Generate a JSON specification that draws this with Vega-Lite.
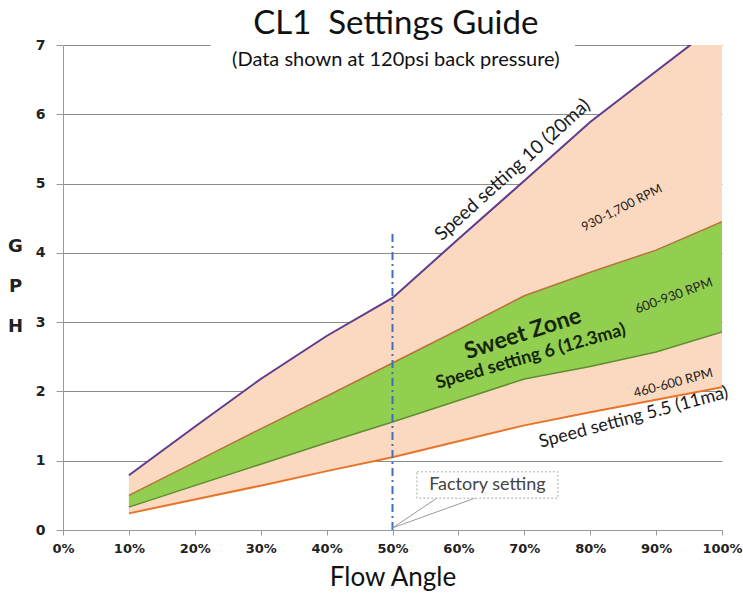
{
  "$schema": "https://vega.github.io/schema/vega-lite/v6.json",
  "width": 659,
  "height": 485,
  "autosize": {"type": "none"},
  "padding": {"left": 63, "top": 45, "right": 21, "bottom": 65},
  "background": "white",
  "config": {"view": {"stroke": null}},
  "datasets": {
    "curves": [
      {"x": 10, "purple": 0.79, "top": 0.5, "gl": 0.33, "ol": 0.24},
      {"x": 20, "purple": 1.49, "top": 0.98, "gl": 0.64, "ol": 0.44},
      {"x": 30, "purple": 2.18, "top": 1.46, "gl": 0.95, "ol": 0.64},
      {"x": 40, "purple": 2.8, "top": 1.93, "gl": 1.26, "ol": 0.85},
      {"x": 50, "purple": 3.35, "top": 2.41, "gl": 1.56, "ol": 1.05},
      {"x": 60, "purple": 4.2, "top": 2.89, "gl": 1.87, "ol": 1.28},
      {"x": 70, "purple": 5.04, "top": 3.38, "gl": 2.18, "ol": 1.51},
      {"x": 80, "purple": 5.89, "top": 3.72, "gl": 2.36, "ol": 1.7},
      {"x": 90, "purple": 6.62, "top": 4.04, "gl": 2.57, "ol": 1.88},
      {"x": 100, "purple": 7.35, "top": 4.45, "gl": 2.86, "ol": 2.06}
    ]
  },
  "layer": [
    {
      "data": {"name": "curves"},
      "mark": {"type": "area", "color": "#FBD9C0", "clip": true},
      "encoding": {
        "x": {"field": "x", "type": "quantitative", "scale": {"domain": [0, 100]},
          "axis": {"values": [0,10,20,30,40,50,60,70,80,90,100], "labelExpr": "datum.value + '%'", "grid": false,
            "labelFlush": false, "labelOverlap": false,
            "domainColor": "#999", "tickColor": "#999", "tickSize": 5, "labelPadding": 7,
            "labelFont": "DejaVu Sans", "labelFontWeight": "bold", "labelFontSize": 13, "labelColor": "#222",
            "title": "Flow Angle", "titleFont": "Lato", "titleFontSize": 26, "titleFontWeight": "normal", "titleColor": "#111", "titlePadding": 9}},
        "y": {"field": "ol", "type": "quantitative", "scale": {"domain": [0, 7]},
          "axis": {"values": [0,1,2,3,4,5,6,7], "format": "d", "grid": true, "gridColor": "#8c8c8c", "gridWidth": 1,
            "labelFlush": false, "labelOverlap": false,
            "domainColor": "#999", "tickColor": "#999", "tickSize": 7, "labelPadding": 11,
            "labelFont": "DejaVu Sans", "labelFontWeight": "bold", "labelFontSize": 14, "labelColor": "#222",
            "title": ["G", "P", "H"], "titleAngle": 0, "titleFont": "DejaVu Sans", "titleFontWeight": "bold",
            "titleFontSize": 18, "titleColor": "#222", "titleLineHeight": 40, "titleX": -48, "titleY": 206,
            "titleAlign": "center", "titleBaseline": "alphabetic"}},
        "y2": {"field": "purple"}
      }
    },
    {
      "data": {"name": "curves"},
      "mark": {"type": "area", "color": "#92CF50", "clip": true},
      "encoding": {
        "x": {"field": "x", "type": "quantitative"},
        "y": {"field": "gl", "type": "quantitative"},
        "y2": {"field": "top"}
      }
    },
    {
      "data": {"name": "curves"},
      "mark": {"type": "line", "color": "#5E3B8C", "strokeWidth": 2, "clip": true},
      "encoding": {"x": {"field": "x", "type": "quantitative"}, "y": {"field": "purple", "type": "quantitative"}}
    },
    {
      "data": {"name": "curves"},
      "mark": {"type": "line", "color": "#B8733A", "strokeWidth": 1.5, "clip": true},
      "encoding": {"x": {"field": "x", "type": "quantitative"}, "y": {"field": "top", "type": "quantitative"}}
    },
    {
      "data": {"name": "curves"},
      "mark": {"type": "line", "color": "#5E8E30", "strokeWidth": 1.5, "clip": true},
      "encoding": {"x": {"field": "x", "type": "quantitative"}, "y": {"field": "gl", "type": "quantitative"}}
    },
    {
      "data": {"name": "curves"},
      "mark": {"type": "line", "color": "#E8742A", "strokeWidth": 2, "clip": true},
      "encoding": {"x": {"field": "x", "type": "quantitative"}, "y": {"field": "ol", "type": "quantitative"}}
    },
    {
      "data": {"values": [{"x1": 22.4, "x2": 77.7, "y1": 6.55, "y2": 7.3}]},
      "mark": {"type": "rect", "color": "white"},
      "encoding": {
        "x": {"field": "x1", "type": "quantitative"}, "x2": {"field": "x2"},
        "y": {"field": "y1", "type": "quantitative"}, "y2": {"field": "y2"}
      }
    },
    {
      "data": {"values": [{"x": 50.5, "y": 7.3, "t": "CL1\u00a0 Settings Guide"}]},
      "mark": {"type": "text", "font": "Lato", "fontSize": 33, "color": "#111", "baseline": "middle", "align": "center"},
      "encoding": {"x": {"field": "x", "type": "quantitative"}, "y": {"field": "y", "type": "quantitative"}, "text": {"field": "t"}}
    },
    {
      "data": {"values": [{"x": 50.5, "y": 6.78, "t": "(Data shown at 120psi back pressure)"}]},
      "mark": {"type": "text", "font": "Lato", "fontSize": 20, "color": "#111", "baseline": "middle", "align": "center"},
      "encoding": {"x": {"field": "x", "type": "quantitative"}, "y": {"field": "y", "type": "quantitative"}, "text": {"field": "t"}}
    },
    {
      "data": {"values": [{"x": 50, "y0": 0, "y1": 4.3}]},
      "mark": {"type": "rule", "color": "#3F6FBF", "strokeWidth": 2, "strokeDash": [8, 4, 2, 4]},
      "encoding": {"x": {"field": "x", "type": "quantitative"}, "y": {"field": "y0", "type": "quantitative"}, "y2": {"field": "y1"}}
    },
    {
      "data": {"values": [{"x": 50, "y": 0.03, "xe": 56.9, "ye": 0.47}, {"x": 50, "y": 0.03, "xe": 62.8, "ye": 0.47}]},
      "mark": {"type": "rule", "color": "#9a9a9a", "strokeWidth": 1},
      "encoding": {"x": {"field": "x", "type": "quantitative"}, "y": {"field": "y", "type": "quantitative"}, "x2": {"field": "xe"}, "y2": {"field": "ye"}}
    },
    {
      "data": {"values": [{"x1": 53.7, "x2": 75.1, "y1": 0.46, "y2": 0.84}]},
      "mark": {"type": "rect", "fill": "white", "stroke": "#aaaaaa", "strokeWidth": 1, "strokeDash": [2, 2]},
      "encoding": {
        "x": {"field": "x1", "type": "quantitative"}, "x2": {"field": "x2"},
        "y": {"field": "y1", "type": "quantitative"}, "y2": {"field": "y2"}
      }
    },
    {
      "data": {"values": [{"x": 64.4, "y": 0.65, "t": "Factory setting"}]},
      "mark": {"type": "text", "font": "Lato", "fontSize": 18, "color": "#444", "baseline": "middle", "align": "center"},
      "encoding": {"x": {"field": "x", "type": "quantitative"}, "y": {"field": "y", "type": "quantitative"}, "text": {"field": "t"}}
    },
    {
      "data": {"values": [{"x": 68.2, "y": 5.2, "t": "Speed setting 10 (20ma)"}]},
      "mark": {"type": "text", "font": "Lato", "fontSize": 19, "color": "#1a1a1a", "baseline": "middle", "align": "center", "angle": 318},
      "encoding": {"x": {"field": "x", "type": "quantitative"}, "y": {"field": "y", "type": "quantitative"}, "text": {"field": "t"}}
    },
    {
      "data": {"values": [{"x": 84.8, "y": 4.65, "t": "930-1,700 RPM"}]},
      "mark": {"type": "text", "font": "Lato", "fontSize": 12.5, "color": "#222", "baseline": "middle", "align": "center", "angle": 333},
      "encoding": {"x": {"field": "x", "type": "quantitative"}, "y": {"field": "y", "type": "quantitative"}, "text": {"field": "t"}}
    },
    {
      "data": {"values": [{"x": 69.8, "y": 2.83, "t": "Sweet Zone"}]},
      "mark": {"type": "text", "font": "Lato", "fontSize": 23, "fontWeight": "bold", "color": "#14260a", "baseline": "middle", "align": "center", "angle": 342},
      "encoding": {"x": {"field": "x", "type": "quantitative"}, "y": {"field": "y", "type": "quantitative"}, "text": {"field": "t"}}
    },
    {
      "data": {"values": [{"x": 71, "y": 2.5, "t": "Speed setting 6 (12.3ma)"}]},
      "mark": {"type": "text", "font": "Lato", "fontSize": 18, "fontWeight": "bold", "color": "#14260a", "baseline": "middle", "align": "center", "angle": 344},
      "encoding": {"x": {"field": "x", "type": "quantitative"}, "y": {"field": "y", "type": "quantitative"}, "text": {"field": "t"}}
    },
    {
      "data": {"values": [{"x": 92.7, "y": 3.38, "t": "600-930 RPM"}]},
      "mark": {"type": "text", "font": "Lato", "fontSize": 13, "color": "#222", "baseline": "middle", "align": "center", "angle": 340},
      "encoding": {"x": {"field": "x", "type": "quantitative"}, "y": {"field": "y", "type": "quantitative"}, "text": {"field": "t"}}
    },
    {
      "data": {"values": [{"x": 92.6, "y": 2.12, "t": "460-600 RPM"}]},
      "mark": {"type": "text", "font": "Lato", "fontSize": 13, "color": "#222", "baseline": "middle", "align": "center", "angle": 345},
      "encoding": {"x": {"field": "x", "type": "quantitative"}, "y": {"field": "y", "type": "quantitative"}, "text": {"field": "t"}}
    },
    {
      "data": {"values": [{"x": 86.6, "y": 1.62, "t": "Speed setting 5.5 (11ma)"}]},
      "mark": {"type": "text", "font": "Lato", "fontSize": 18, "color": "#1a1a1a", "baseline": "middle", "align": "center", "angle": 345},
      "encoding": {"x": {"field": "x", "type": "quantitative"}, "y": {"field": "y", "type": "quantitative"}, "text": {"field": "t"}}
    }
  ]
}
